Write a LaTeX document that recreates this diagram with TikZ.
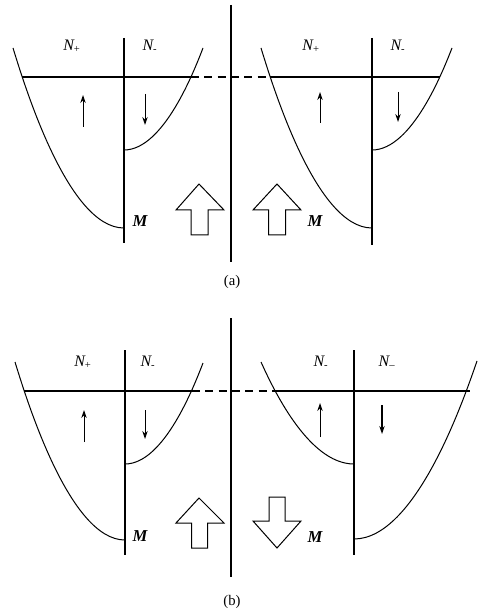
\documentclass[tikz,border=0pt]{standalone}
\usepackage{fontspec}
\setmainfont{Liberation Serif}
\usetikzlibrary{arrows.meta}
\begin{document}
\begin{tikzpicture}[x=0.75pt,y=-0.75pt,
  axis/.style={line width=0.9pt},
  band/.style={line width=0.75pt},
  level/.style={line width=0.85pt},
  dashlevel/.style={line width=0.85pt,dash pattern=on 6pt off 4pt},
  spin/.style={line width=0.75pt,-{Stealth[length=6pt,width=4pt]}},
  bigarrow/.style={line width=0.75pt,fill=white},
  nlab/.style={font=\fontsize{12}{13}\selectfont\itshape,inner sep=0pt},
  mlab/.style={font=\fontsize{12.5}{13}\selectfont\bfseries\itshape,inner sep=0pt},
  caplab/.style={font=\fontsize{11}{12}\selectfont,inner sep=0pt}]
\useasboundingbox (0,0) rectangle (486,609);

% ---------------- (a) ----------------
% left half
\coordinate (aLtop) at (124,38);
\coordinate (aLbot) at (124,243);
\draw[axis] (aLtop) -- (aLbot);
\coordinate (aLv1) at (124,228);
\coordinate (aLe1) at (13,48);
\coordinate (aLv2) at (124,150);
\coordinate (aLe2) at (203,48);
\draw[band] (aLv1) parabola (aLe1);
\draw[band] (aLv2) parabola (aLe2);
\coordinate (aLh1) at (22,77);
\coordinate (aLh2) at (191,77);
\draw[level] (aLh1) -- (aLh2);
\node[nlab] (aLnp) at (72,46) {N\textsubscript{\upshape +}};
\node[nlab] (aLnm) at (150,46) {N\textsubscript{\upshape -}};
\coordinate (aLu1) at (83,127); \coordinate (aLu2) at (83,95);
\draw[spin] (aLu1) -- (aLu2);
\coordinate (aLd1) at (145,94); \coordinate (aLd2) at (145,125);
\draw[spin] (aLd1) -- (aLd2);
\node[mlab] (aLM) at (140,221) {M};
\draw[bigarrow] (199,184) -- (224,210) -- (208,210) -- (208,235) -- (191,235) -- (191,210) -- (176,210) -- cycle;

% divider
\coordinate (aDt) at (231,5);
\coordinate (aDb) at (231,262);
\draw[axis] (aDt) -- (aDb);

% right half
\coordinate (aRtop) at (372,38);
\coordinate (aRbot) at (372,245);
\draw[axis] (aRtop) -- (aRbot);
\coordinate (aRv1) at (372,228);
\coordinate (aRe1) at (261,48);
\coordinate (aRv2) at (372,150);
\coordinate (aRe2) at (452,48);
\draw[band] (aRv1) parabola (aRe1);
\draw[band] (aRv2) parabola (aRe2);
\coordinate (aRh1) at (270,77);
\coordinate (aRh2) at (440,77);
\draw[level] (aRh1) -- (aRh2);
\draw[dashlevel] (aLh2) -- (aRh1);
\node[nlab] (aRnp) at (311,46) {N\textsubscript{\upshape +}};
\node[nlab] (aRnm) at (398,46) {N\textsubscript{\upshape -}};
\coordinate (aRu1) at (320,123); \coordinate (aRu2) at (320,92);
\draw[spin] (aRu1) -- (aRu2);
\coordinate (aRd1) at (398,92); \coordinate (aRd2) at (398,122);
\draw[spin] (aRd1) -- (aRd2);
\node[mlab] (aRM) at (315,221) {M};
\draw[bigarrow] (277,184) -- (301,210) -- (285.5,210) -- (285.5,235) -- (268.5,235) -- (268.5,210) -- (253,210) -- cycle;

\node[caplab] (capa) at (232,282) {(a)};

% ---------------- (b) ----------------
% left half
\coordinate (bLtop) at (125,350);
\coordinate (bLbot) at (125,555);
\draw[axis] (bLtop) -- (bLbot);
\coordinate (bLv1) at (125,540);
\coordinate (bLe1) at (15,362);
\coordinate (bLv2) at (125,464);
\coordinate (bLe2) at (203,363);
\draw[band] (bLv1) parabola (bLe1);
\draw[band] (bLv2) parabola (bLe2);
\coordinate (bLh1) at (24,391);
\coordinate (bLh2) at (192,391);
\draw[level] (bLh1) -- (bLh2);
\node[nlab] (bLnp) at (83,362) {N\textsubscript{\upshape +}};
\node[nlab] (bLnm) at (148,362) {N\textsubscript{\upshape -}};
\coordinate (bLu1) at (84,442); \coordinate (bLu2) at (84,410);
\draw[spin] (bLu1) -- (bLu2);
\coordinate (bLd1) at (145,410); \coordinate (bLd2) at (145,439);
\draw[spin] (bLd1) -- (bLd2);
\node[mlab] (bLM) at (140,536) {M};
\draw[bigarrow] (199,498) -- (224,523) -- (207.5,523) -- (207.5,548) -- (191.5,548) -- (191.5,523) -- (176,523) -- cycle;

% divider
\coordinate (bDt) at (231,318);
\coordinate (bDb) at (231,577);
\draw[axis] (bDt) -- (bDb);

% right half
\coordinate (bRtop) at (354,350);
\coordinate (bRbot) at (354,555);
\draw[axis] (bRtop) -- (bRbot);
\coordinate (bRv1) at (354,464);
\coordinate (bRe1) at (261,362);
\coordinate (bRv2) at (354,539);
\coordinate (bRe2) at (477,361);
\draw[band] (bRv1) parabola (bRe1);
\draw[band] (bRv2) parabola (bRe2);
\coordinate (bRh1) at (275,391);
\coordinate (bRh2) at (470,391);
\draw[level] (bRh1) -- (bRh2);
\draw[dashlevel] (bLh2) -- (bRh1);
\node[nlab] (bRn1) at (321,362) {N\textsubscript{\upshape -}};
\node[nlab] (bRn2) at (387,362) {N\textsubscript{\upshape --}};
\coordinate (bRu1) at (320,437); \coordinate (bRu2) at (320,403);
\draw[spin] (bRu1) -- (bRu2);
\coordinate (bRd1) at (382,405); \coordinate (bRd2) at (382,434);
\draw[spin,line width=1.3pt] (bRd1) -- (bRd2);
\node[mlab] (bRM) at (315,537) {M};
\draw[bigarrow] (277,548) -- (301,521) -- (285,521) -- (285,497) -- (269,497) -- (269,521) -- (253,521) -- cycle;

\node[caplab] (capb) at (232,602) {(b)};
\end{tikzpicture}
\end{document}
